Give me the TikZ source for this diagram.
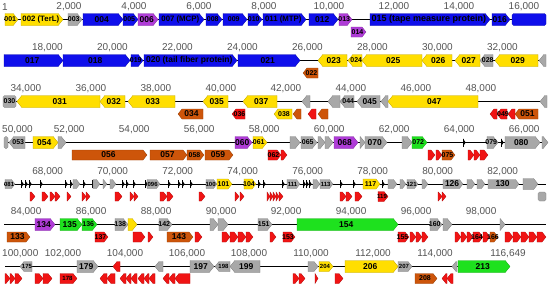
\documentclass[tikz,border=0pt]{standalone}
\usepackage{fontspec}
\setmainfont{Liberation Sans}
\definecolor{yel}{RGB}{255,222,0}
\definecolor{blu}{RGB}{15,15,235}
\definecolor{pur}{RGB}{175,60,215}
\definecolor{gry}{RGB}{168,168,168}
\definecolor{org}{RGB}{205,85,10}
\definecolor{rd}{RGB}{240,20,20}
\definecolor{grn}{RGB}{30,225,30}
\definecolor{tkc}{RGB}{85,85,85}
\newcounter{gn}
\tikzset{
  gl/.style={font=\fontsize{8.5}{8.5}\selectfont\bfseries, inner sep=0pt, text=black},
  tk/.style={font=\fontsize{10}{10}\selectfont, text=tkc, inner sep=0pt},
  bb/.style={line width=0.8pt, black},
  gshape/.style={fill=#1, draw=#1!75!black, line width=0.3pt}
}
\newcommand\sm{\fontsize{7}{7}\selectfont}
\newcommand\tn{\fontsize{6}{6}\selectfont}
\newcommand\mdsz{\fontsize{7.8}{7.8}\selectfont}
\newcommand\lgsz{\fontsize{9}{9}\selectfont}
% forward gene: [half height]{x1}{x2}{y}{colour}{label}
\newcommand\genef[6][6]{%
  \pgfmathsetmacro\ah{min(0.8*#1,#3-#2)}%
  \filldraw[gshape=#5] (#2,#4-#1) -- ({#3-\ah},#4-#1) -- (#3,#4) -- ({#3-\ah},#4+#1) -- (#2,#4+#1) -- cycle;%
  \stepcounter{gn}%
  \node[gl] (g\arabic{gn}) at ({(#2+#3-0.5*\ah)/2},#4) {#6};%
}
% reverse gene
\newcommand\gener[6][6]{%
  \pgfmathsetmacro\ah{min(0.8*#1,#3-#2)}%
  \filldraw[gshape=#5] (#3,#4-#1) -- ({#2+\ah},#4-#1) -- (#2,#4) -- ({#2+\ah},#4+#1) -- (#3,#4+#1) -- cycle;%
  \stepcounter{gn}%
  \node[gl] (g\arabic{gn}) at ({(#2+#3+0.5*\ah)/2},#4) {#6};%
}
% piece without arrow
\newcommand\geneb[6][6]{%
  \filldraw[gshape=#5, rounded corners=1.5pt] (#2,#4-#1) rectangle (#3,#4+#1);%
  \stepcounter{gn}%
  \node[gl] (g\arabic{gn}) at ({(#2+#3)/2},#4) {#6};%
}
% tiny black gene
\newcommand\genet[2]{%
  \fill[black] (#1,#2-4) -- (#1+2.6,#2) -- (#1,#2+4) -- cycle;%
  \draw[black, line width=0.6pt] (#1,#2-4) -- (#1,#2+4);%
}
\begin{document}
\begin{tikzpicture}[x=1pt,y=-1pt]
\useasboundingbox[fill=white] (0,0) rectangle (550,289);
% backbones
\foreach \r in {19.5,60.5,101.5,142.5,184,224.5} {\draw[bb] (4,\r) -- (546,\r);}
\draw[bb] (5,266.5) -- (510,266.5);
% scale labels
\node[tk, anchor=west] (r1-1) at (2,7) {1};
\foreach \t in {2,4,...,16} {\node[tk] (r1-\t) at ({4+\t*32.5},7) {\t,000};}
\foreach \t in {18,20,...,32} {\node[tk] (r2-\t) at ({4+\t*32.5-541.58},48) {\t,000};}
\foreach \t in {34,36,...,48} {\node[tk] (r3-\t) at ({4+\t*32.5-1083.16},89) {\t,000};}
\node[tk, anchor=west] (r4-50) at (2,130) {50,000};
\foreach \t in {52,54,...,66} {\node[tk] (r4-\t) at ({4+\t*32.5-1624.77},130) {\t,000};}
\foreach \t in {68,70,...,82} {\node[tk] (r5-\t) at ({4+\t*32.5-2166.35},171.5) {\t,000};}
\foreach \t in {84,86,...,98} {\node[tk] (r6-\t) at ({4+\t*32.5-2707.93},212) {\t,000};}
\node[tk, anchor=west] (r7-100) at (2,254) {100,000};
\foreach \t in {102,104,...,114} {\node[tk] (r7-\t) at ({63+(\t-102)*31},254) {\t,000};}
\node[tk] (r7-end) at (508,254) {116,649};

% ---- row 1
\genef{5}{18}{19.5}{yel}{\sm 001}
\genef{21}{63}{19.5}{yel}{\mdsz 002 (TerL)}
\genef{68}{82}{19.5}{gry}{\sm 003}
\genef{83}{123}{19.5}{blu}{004}
\genef{123}{138}{19.5}{blu}{\sm 005}
\genef{138}{158}{19.5}{pur}{006}
\genef{159}{204}{19.5}{blu}{\mdsz 007 (MCP)}
\genef{206}{222}{19.5}{blu}{\sm 008}
\genef{223}{247}{19.5}{blu}{\sm 009}
\genef{248}{262}{19.5}{blu}{\sm 010}
\genef{263}{306}{19.5}{blu}{\mdsz 011 (MTP)}
\genef{309}{338}{19.5}{blu}{012}
\genef{339}{352}{19.5}{pur}{\sm 013}
\genef[5]{351}{366}{32}{pur}{\sm 014}
\genef{370}{490}{19.5}{blu}{\lgsz 015 (tape measure protein)}
\genef{492}{510}{19.5}{blu}{016}
\geneb{512}{546}{19.5}{blu}{}
% ---- row 2
\genef{4}{63}{60.5}{blu}{017}
\genef{63}{130}{60.5}{blu}{018}
\genef{131}{143}{60.5}{blu}{\sm 019}
\genef{144}{237}{60.5}{blu}{020 (tail fiber protein)}
\genef{238}{300}{60.5}{blu}{021}
\gener[5]{303}{318}{73}{org}{\sm 022}
\gener{318}{347}{60.5}{yel}{023}
\gener{348}{362}{60.5}{yel}{\sm 024}
\gener{362}{422}{60.5}{yel}{025}
\gener{422}{452}{60.5}{yel}{026}
\gener{455}{480}{60.5}{yel}{027}
\gener{480}{493}{60.5}{gry}{\sm 028}
\gener{495}{538}{60.5}{yel}{029}
\gener{539}{546}{60.5}{gry}{}
% ---- row 3
\geneb{3}{16}{101.5}{gry}{\sm 030}
\gener{17}{100}{101.5}{yel}{031}
\gener{100}{125}{101.5}{yel}{032}
\gener{128}{175}{101.5}{yel}{033}
\gener[5]{178}{203}{114}{org}{034}
\gener{203}{228}{101.5}{yel}{035}
\gener[5]{232}{245}{114}{rd}{\sm 036}
\gener{243}{277}{101.5}{yel}{037}
\gener[5]{274}{292}{114}{yel}{\sm 038}
\gener[5]{293}{301}{114}{org}{}
\gener{302}{310}{101.5}{gry}{}
\gener[5]{308}{316}{114}{rd}{}
\gener[5]{318}{328}{114}{org}{}
\gener{328}{340}{101.5}{gry}{}
\gener{340}{354}{101.5}{gry}{\sm 044}
\gener{357}{380}{101.5}{gry}{045}
\gener{381}{388}{101.5}{gry}{}
\gener{388}{478}{101.5}{yel}{047}
\gener[5]{490}{497}{114}{rd}{}
\gener[5]{497}{507}{114}{rd}{\sm 049}
\gener[5]{508}{515}{114}{rd}{}
\gener[5]{515}{538}{114}{org}{051}
\gener{540}{547}{101.5}{gry}{}
% ---- row 4
\geneb{4}{8}{142.5}{gry}{}
\gener{9}{25}{142.5}{gry}{\sm 053}
\genef{33}{58}{142.5}{yel}{054}
\genef{58}{66}{142.5}{gry}{}
\genef[5]{72}{147}{155}{org}{056}
\genef[5]{150}{187}{155}{org}{057}
\genef[5]{187}{204}{155}{org}{\sm 058}
\genef[5]{205}{233}{155}{org}{059}
\genef{235}{252}{142.5}{pur}{060}
\genef{253}{267}{142.5}{yel}{\sm 061}
\genef[5]{268}{281}{155}{rd}{\sm 062}
\genef[5]{281}{287}{155}{rd}{}
\genef{290}{300}{142.5}{gry}{}
\genef{301}{317}{142.5}{gry}{\sm 065}
\genef{318}{325}{142.5}{gry}{}
\genef{325}{333}{142.5}{gry}{}
\genef{334}{358}{142.5}{pur}{068}
\genef{360}{365}{142.5}{gry}{}
\genef{365}{387}{142.5}{gry}{070}
\genef{402}{412}{142.5}{gry}{}
\genef{412}{427}{142.5}{grn}{\sm 072}
\genet{463}{142.5}
\genef[5]{428}{435}{155}{rd}{}
\genef[5]{436}{442}{155}{rd}{}
\genef[5]{442}{455}{155}{org}{\sm 075}
\genef[5]{468}{474}{155}{rd}{}
\genef[5]{474}{480}{155}{rd}{}
\genef[5]{480}{488}{155}{rd}{}
\genef{487}{498}{142.5}{gry}{\sm 079}
\genet{501}{142.5}
\genef{505}{540}{142.5}{gry}{080}
\genef{542}{548}{142.5}{gry}{}
% ---- row 5
\genef[4.5]{5}{15}{184}{gry}{\tn 081}
\foreach \x in {21,25,29,40,65,70,83,92,122,126,133,145,168,178,182,190,258,263,282,303,306,309,340,353,382}
  {\genet{\x}{184}}
\genef[4.5]{73}{80}{184}{gry}{}
\genef[4.5]{93}{100}{184}{gry}{}
\genef[4.5]{103}{107}{184}{gry}{}
\genef[4.5]{110}{116}{184}{gry}{}
\genef[4.5]{147}{160}{184}{gry}{\tn 096}
\genef[4.5]{206}{217}{184}{gry}{\tn 100}
\genef[5]{217}{232}{184}{yel}{\sm 101}
\genef[5]{244}{256}{184}{yel}{\sm 104}
\genef[4.5]{287}{300}{184}{gry}{\tn 111}
\genef[4.5]{313}{320}{184}{gry}{}
\genef[4.5]{320}{333}{184}{gry}{\tn 113}
\genef[5]{363}{380}{184}{yel}{\sm 117}
\genef[4.5]{388}{397}{184}{gry}{}
\genef[4.5]{400}{406}{184}{gry}{}
\genef[4.5]{407}{418}{184}{gry}{\tn 121}
\genef[4.5]{422}{428}{184}{gry}{}
\genef[4.5]{443}{463}{184}{gry}{126}
\genef[4.5]{467}{475}{184}{gry}{}
\genef[4.5]{477}{485}{184}{gry}{}
\genef[4.5]{488}{519}{184}{gry}{130}
\genef[5.5]{523}{538}{184}{gry}{}
\foreach \a/\b in {30/35,42/48,50/55,55/60,67/71,82/86,86/90,115/122,130/134,134/138,160/167,167/173,199/205,235/239,240/244,267/270,270/273,273/276,276/279,279/283,340/346,346/352,355/362,438/442,442/446}
  {\genef[4.5]{\a}{\b}{196.5}{rd}{}}
\genef[5]{378}{388}{196.5}{rd}{\tn 119}
\geneb[4.5]{538}{546}{196.5}{gry}{}
% ---- row 6
\genef{35}{55}{224.5}{pur}{134}
\genef{60}{82}{224.5}{grn}{135}
\genef{82}{97}{224.5}{grn}{\sm 136}
\genef{115}{128}{224.5}{gry}{\sm 138}
\genef{128}{137}{224.5}{yel}{}
\genef{159}{172}{224.5}{gry}{\sm 142}
\genef{210}{218}{224.5}{gry}{}
\genef{218}{228}{224.5}{gry}{}
\genef{258}{272}{224.5}{gry}{\sm 151}
\genef{297}{398}{224.5}{grn}{154}
\genef{430}{442}{224.5}{gry}{\sm 160}
\genef{443}{452}{224.5}{gry}{}
\genef{500}{505}{224.5}{gry}{}
\genef[5]{7}{30}{237}{org}{133}
\genef[5]{95}{108}{237}{rd}{\sm 137}
\genef[5]{133}{145}{237}{rd}{}
\genef[5]{148}{153}{237}{rd}{}
\genef[5]{167}{193}{237}{org}{143}
\genef[5]{195}{202}{237}{rd}{}
\foreach \a/\b in {222/230,230/238,238/246,246/253,270/276,410/416,416/422,422/428,455/461,461/467,467/473,483/490,505/513,513/521,521/529,529/537,537/546}
  {\genef[5]{\a}{\b}{237}{rd}{}}
\genef[5]{283}{295}{237}{rd}{\sm 153}
\genef[5]{398}{409}{237}{rd}{\sm 155}
\genef[5]{473}{483}{237}{rd}{\sm 164}
\genef[5]{490}{498}{237}{org}{\sm 166}
% ---- row 7
\gener[5]{20}{32}{266.5}{gry}{\tn 175}
\genef{77}{98}{266.5}{gry}{179}
\gener[5]{113}{120}{266.5}{rd}{}
\gener[5]{155}{163}{266.5}{gry}{}
\genef{190}{214}{266.5}{gry}{197}
\gener[5]{215}{230}{266.5}{gry}{\tn 198}
\gener{230}{260}{266.5}{gry}{199}
\genef[5]{308}{318}{266.5}{gry}{}
\genef[5]{319}{333}{266.5}{yel}{\tn 204}
\genef{345}{398}{266.5}{yel}{206}
\genef[5]{398}{412}{266.5}{gry}{\tn 207}
\gener[5]{452}{457}{266.5}{gry}{}
\genef{458}{510}{266.5}{grn}{213}
\foreach \a/\b in {5/10,10/15,15/22,35/43,43/52,293/299,299/305,315/318,335/343}
  {\genef[5]{\a}{\b}{278.5}{rd}{}}
\genef[5]{60}{77}{278.5}{rd}{\tn 178}
\foreach \a/\b in {100/107,107/115,120/126,126/131,131/137,138/144,144/149,149/155,163/169,169/175,175/190,442/447,447/453}
  {\gener[5]{\a}{\b}{278.5}{rd}{}}
\genef[5]{415}{437}{278.5}{org}{\sm 208}
\end{tikzpicture}
\end{document}
